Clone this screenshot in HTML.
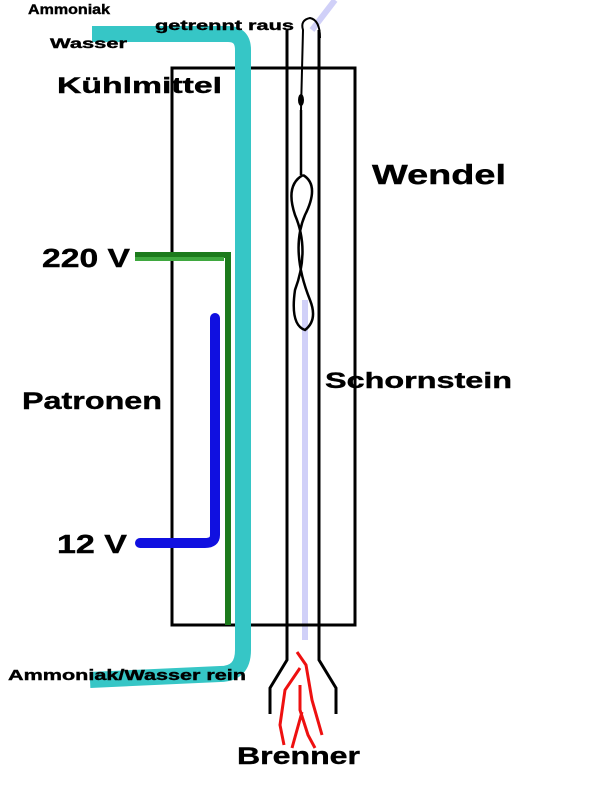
<!DOCTYPE html>
<html><head><style>
body{margin:0;background:#fff;}
svg{display:block}
text{font-family:"Liberation Sans",sans-serif;font-weight:bold;fill:#000;stroke:#000;stroke-width:0.4}
</style></head><body>
<svg width="600" height="800" viewBox="0 0 600 800" xmlns="http://www.w3.org/2000/svg">
<rect width="600" height="800" fill="#fff"/>
<path d="M305 640 L305 300 M312 30 L335 0" stroke="#d0d0f8" stroke-width="6" fill="none"/>
<path d="M172 68 L355 68 L355 625 L172 625 Z" stroke="#000" stroke-width="3" fill="none"/>
<path d="M287 30 L287 660 L270 688 L270 714" stroke="#000" stroke-width="3" fill="none"/>
<path d="M319 30 L319 660 L336 688 L336 714" stroke="#000" stroke-width="3" fill="none"/>
<path d="M92 34 L228 34 Q243 34 243 50 L243 650 Q243 674 220 674 L90 680" stroke="#36c6c6" stroke-width="16" fill="none"/>
<path d="M135 255 L228 255 L228 625" stroke="#1c7a1c" stroke-width="6" fill="none"/>
<path d="M135 259 L224 259" stroke="#3fa83f" stroke-width="4" fill="none"/>
<path d="M215 318 L215 535 Q215 543 205 543 L140 543" stroke="#1010e0" stroke-width="10" fill="none" stroke-linecap="round"/>
<path d="M301 110 L303 30 Q300 20 310 18 Q320 20 320 38" stroke="#000" stroke-width="2" fill="none"/>
<ellipse cx="301" cy="100" rx="3" ry="6" fill="#000"/>
<path d="M301 110 L301 175 M303 175 Q285 185 295 215 Q310 250 295 290 Q290 325 305 330 Q318 320 310 300 Q290 250 305 215 Q320 185 303 175" stroke="#000" stroke-width="2.5" fill="none"/>
<path d="M297 652 L306 665 L312 700 L322 735 M300 668 L285 690 L280 725 L284 745 M300 685 L300 710 L308 735 L315 748 M302 712 L292 748" stroke="#ee1010" stroke-width="3" fill="none"/>
<text x="28" y="14" font-size="14" textLength="82" lengthAdjust="spacingAndGlyphs">Ammoniak</text>
<text x="50" y="48" font-size="14" textLength="77" lengthAdjust="spacingAndGlyphs">Wasser</text>
<text x="155" y="30" font-size="14" textLength="139" lengthAdjust="spacingAndGlyphs">getrennt raus</text>
<text x="57" y="93" font-size="22" textLength="165" lengthAdjust="spacingAndGlyphs">Kühlmittel</text>
<text x="372" y="184" font-size="28" textLength="134" lengthAdjust="spacingAndGlyphs">Wendel</text>
<text x="42" y="267" font-size="26" textLength="88" lengthAdjust="spacingAndGlyphs">220 V</text>
<text x="22" y="409" font-size="24" textLength="140" lengthAdjust="spacingAndGlyphs">Patronen</text>
<text x="325" y="388" font-size="22" textLength="187" lengthAdjust="spacingAndGlyphs">Schornstein</text>
<text x="57" y="553" font-size="26" textLength="70" lengthAdjust="spacingAndGlyphs">12 V</text>
<text x="8" y="680" font-size="15" textLength="238" lengthAdjust="spacingAndGlyphs">Ammoniak/Wasser rein</text>
<text x="237" y="764" font-size="24" textLength="123" lengthAdjust="spacingAndGlyphs">Brenner</text>
</svg>
</body></html>
